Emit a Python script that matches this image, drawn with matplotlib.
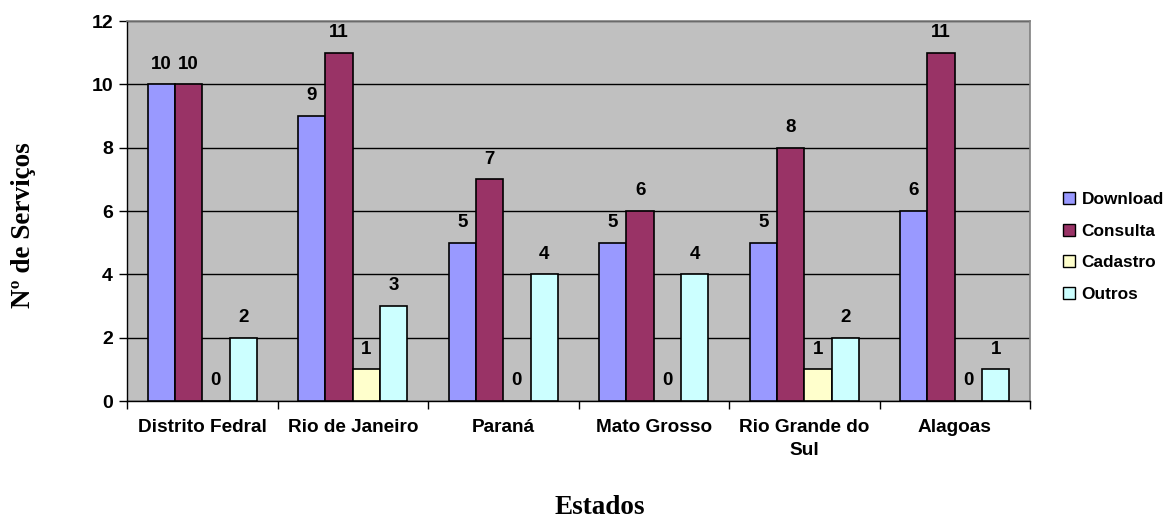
import matplotlib
matplotlib.use("Agg")
import matplotlib.pyplot as plt
import numpy as np

categories = ["Distrito Fedral", "Rio de Janeiro", "Paraná", "Mato Grosso", "Rio Grande do\nSul", "Alagoas"]
series_names = ["Download", "Consulta", "Cadastro", "Outros"]
download = [10, 9, 5, 5, 5, 6]
consulta = [10, 11, 7, 6, 8, 11]
cadastro = [0, 1, 0, 0, 1, 0]
outros = [2, 3, 4, 4, 2, 1]
colors = ["#9999FF", "#993366", "#FFFFCC", "#CCFFFF"]
yticks = [0, 2, 4, 6, 8, 10, 12]

W, H = 1166, 519
fig = plt.figure(figsize=(W / 100, H / 100), dpi=100)
ax = fig.add_axes([127 / W, 1 - 401 / H, (1030 - 127) / W, (401 - 21) / H])
ax.set_facecolor("#C0C0C0")

sans = ["Liberation Sans", "DejaVu Sans"]
serif = ["Liberation Serif", "DejaVu Serif"]

x = np.arange(len(categories))
bw = 1 / 5.5
data = [download, consulta, cadastro, outros]
for i, (vals, name, c) in enumerate(zip(data, series_names, colors)):
    pos = x - 2 * bw + (i + 0.5) * bw
    ax.bar(pos, vals, width=bw, color=c, edgecolor="black", linewidth=1.2,
           label=name, zorder=3)
    for p, v in zip(pos, vals):
        ax.annotate(str(v), (p, v), xytext=(0, 14.5), textcoords="offset points",
                    ha="center", va="center", fontsize=13.5, fontweight="bold",
                    family=sans, zorder=4)

ax.set_xlim(-0.5, len(categories) - 0.5)
ax.set_ylim(0, 12)
ax.set_yticks(yticks)
ax.set_yticklabels([str(t) for t in yticks], fontsize=14, fontweight="bold", family=sans)
ax.yaxis.grid(True, color="black", linewidth=1.0, zorder=1)
ax.set_axisbelow(True)

ax.set_xticks(x)
ax.set_xticklabels(categories, fontsize=13.7, fontweight="bold", family=sans, linespacing=1.45)
ax.tick_params(axis="x", length=0, pad=13)
ax.set_xticks(np.arange(-0.5, len(categories) + 0.5, 1), minor=True)
ax.tick_params(axis="x", which="minor", length=6, width=1, color="black", direction="out")
ax.tick_params(axis="y", length=6, width=1, direction="out", pad=4)

for s in ["top", "right"]:
    ax.spines[s].set_color("#808080")
    ax.spines[s].set_linewidth(1.2)
for s in ["left", "bottom"]:
    ax.spines[s].set_color("black")
    ax.spines[s].set_linewidth(1.0)

leg = fig.legend(loc="center left", bbox_to_anchor=(1054 / W, 1 - 247 / H),
                 frameon=False, prop={"family": sans, "weight": "bold", "size": 12.4},
                 handlelength=0.7, handleheight=0.7, handletextpad=0.4, labelspacing=0.96,
                 borderaxespad=0, borderpad=0.5)
for h in leg.legend_handles:
    h.set_linewidth(1.0)

fig.text(24 / W, 1 - 225 / H, "Nº de Serviços", rotation=90, ha="center", va="center",
         fontsize=19.5, fontweight="bold", family=serif)
fig.text(600 / W, 1 - 507 / H, "Estados", ha="center", va="center",
         fontsize=19.5, fontweight="bold", family=serif)

fig.savefig("out.png", dpi=100)
